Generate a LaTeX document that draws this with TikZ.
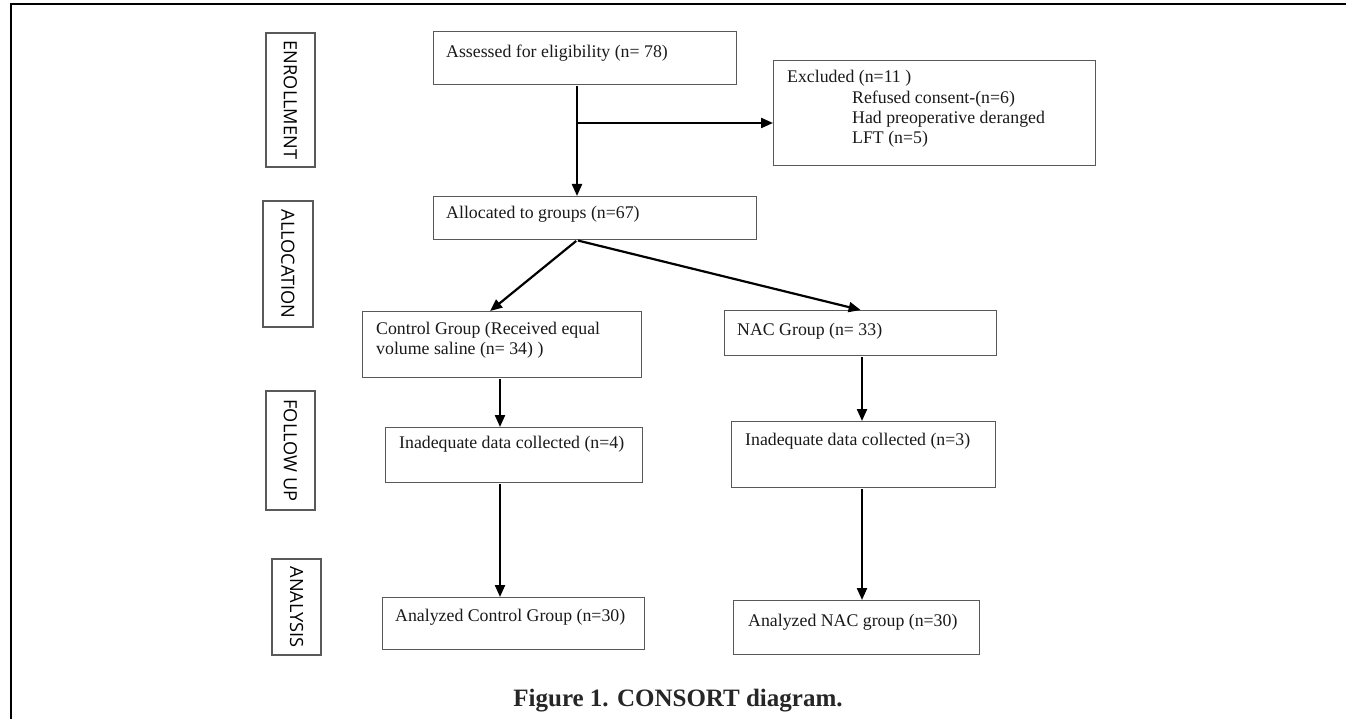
\documentclass[tikz,border=0pt]{standalone}
\usepackage{fontspec}
\setmainfont{Liberation Serif}
\newfontfamily\sidefont{Open Sans}
\usetikzlibrary{arrows.meta,calc}

\begin{document}
\begin{tikzpicture}[x=1pt,y=-1pt,
    box/.style={draw=black!65,line width=1.3pt,inner sep=0pt,anchor=north west},
    txt/.style={anchor=base west,inner sep=0pt,text=black!90,font=\fontsize{17.8}{20}\selectfont},
    side/.style={draw=black!65,line width=1.3pt,inner sep=0pt,rotate=-90,font=\sidefont\fontsize{18.2}{22}\selectfont},
    arr/.style={line width=2.2pt,shorten <=1pt,-{Triangle[length=12pt,width=10pt]}}]
    \useasboundingbox (0,0) rectangle (1346,719);
    \draw[line width=2.5pt] (11,719) -- (11,4) -- (1346,4);

    \node[side,minimum width=134pt,minimum height=49pt] (enrol) at (290.5,100) {ENROLLMENT};
    \node[side,minimum width=126pt,minimum height=50pt] (alloclab) at (288,264) {ALLOCATION};
    \node[side,minimum width=119pt,minimum height=49pt] (follow) at (290.5,450.5) {FOLLOW UP};
    \node[side,minimum width=96pt,minimum height=49pt] (analysis) at (296.5,607) {ANALYSIS};

    \node[box,minimum width=303pt,minimum height=53pt] (assess) at (433,31) {};
    \node[box,minimum width=322pt,minimum height=105pt] (excl) at (773,60) {};
    \node[box,minimum width=323pt,minimum height=43pt] (alloc) at (433,196) {};
    \node[box,minimum width=279pt,minimum height=66pt] (ctrl) at (362,311) {};
    \node[box,minimum width=272pt,minimum height=45pt] (nac) at (724,310) {};
    \node[box,minimum width=257pt,minimum height=55pt] (inad4) at (385,427) {};
    \node[box,minimum width=264pt,minimum height=66pt] (inad3) at (731,421) {};
    \node[box,minimum width=262pt,minimum height=52pt] (anactrl) at (382,597) {};
    \node[box,minimum width=246pt,minimum height=54pt] (ananac) at (733,600) {};

    \node[txt] (assesst) at (446,58) {Assessed for eligibility (n= 78)};
    \node[txt] (exclt) at (787,83) {Excluded (n=11 )};
    \node[txt] (exclta) at (852,103.5) {Refused consent-(n=6)};
    \node[txt] (excltb) at (852,124) {Had preoperative deranged};
    \node[txt] (excltc) at (852,144) {LFT (n=5)};
    \node[txt] (alloct) at (446,219) {Allocated to groups (n=67)};
    \node[txt] (ctrlta) at (376,334) {Control Group (Received equal};
    \node[txt] (ctrltb) at (376,354) {volume saline (n= 34) )};
    \node[txt] (nact) at (737,335) {NAC Group (n= 33)};
    \node[txt] (inad4t) at (399,448) {Inadequate data collected (n=4)};
    \node[txt] (inad3t) at (745,445) {Inadequate data collected (n=3)};
    \node[txt] (anactrlt) at (395,621) {Analyzed Control Group (n=30)};
    \node[txt] (ananact) at (748,626) {Analyzed NAC group (n=30)};

    \node[anchor=base,inner sep=0pt,text=black!85,font=\bfseries\fontsize{25}{28}\selectfont] (caption) at (678,706) {Figure 1. CONSORT diagram.};

    \coordinate (split) at (577,123);
    \coordinate (lcol) at (500,0);
    \coordinate (rcol) at (862,0);

    \draw[arr] (assess.south -| split) -- (alloc.north -| split);
    \draw[line width=2.2pt,-{Triangle[length=12pt,width=10pt]}] (split) -- (split -| excl.west);
    \draw[arr] (alloc.south -| split) -- ($(ctrl.north)+(-12,0)$);
    \draw[arr] (alloc.south -| split) -- (nac.north);
    \draw[arr] (ctrl.south -| lcol) -- (inad4.north -| lcol);
    \draw[arr] (inad4.south -| lcol) -- (anactrl.north -| lcol);
    \draw[arr] (nac.south -| rcol) -- (inad3.north -| rcol);
    \draw[arr] (inad3.south -| rcol) -- (ananac.north -| rcol);
\end{tikzpicture}
\end{document}
